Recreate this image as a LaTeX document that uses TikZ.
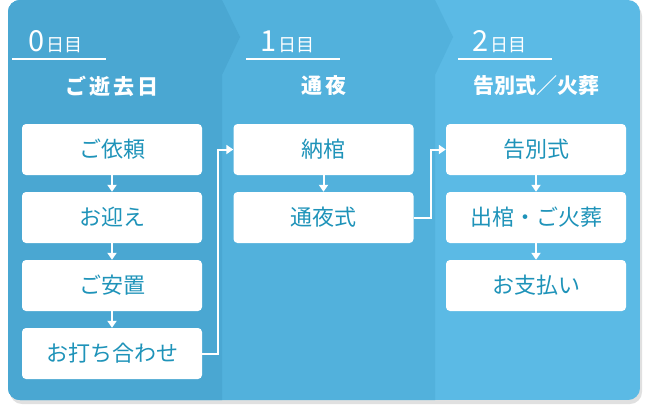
\documentclass[tikz,border=0pt]{standalone}
\usepackage{fontspec}
\setmainfont{Noto Sans CJK JP}
\usetikzlibrary{arrows.meta}
\definecolor{cA}{HTML}{4AA7D2}
\definecolor{cB}{HTML}{52B1DC}
\definecolor{cC}{HTML}{5BBAE5}
\definecolor{tx}{HTML}{1E93B9}
\tikzset{
  box/.style={fill=white,rounded corners=4pt,minimum width=180pt,minimum height=51pt,text=tx,font=\fontsize{22}{22}\selectfont,inner sep=0pt},
  flow/.style={draw=white,line width=2pt,-{Triangle[length=7pt,width=9pt]}},
  hd/.style={text=white,font=\fontsize{21}{21}\selectfont\bfseries},
  day/.style={text=white,inner sep=0pt,anchor=base west}
}
\begin{document}
\begin{tikzpicture}[x=1pt,y=-1pt]
\useasboundingbox (0,0) rectangle (648,416);
\fill[black!12,rounded corners=12pt] (10,4) rectangle (642,404);
\begin{scope}
\clip[rounded corners=12pt] (8,0) rectangle (640,400);
\fill[cC] (8,0) rectangle (640,400);
\fill[cB] (8,0) -- (435,0) -- (453,37) -- (435,75) -- (435,400) -- (8,400) -- cycle;
\fill[cA] (8,0) -- (222,0) -- (240,37) -- (222,75) -- (222,400) -- (8,400) -- cycle;
\end{scope}
% headers
\foreach \x/\n in {28/0,260/1,472/2}{
  \node[day] at (\x,51) {\fontsize{29}{29}\selectfont\n\hspace{2pt}\fontsize{18}{18}\selectfont 日目};
}
\draw[white,line width=1.5pt] (12,59) -- (106,59);
\draw[white,line width=1.5pt] (246,59) -- (340,59);
\draw[white,line width=1.5pt] (458,59) -- (552,59);
\node[hd] (h0) at (112,86) {ご\hspace{3pt}逝\hspace{3pt}去\hspace{3pt}日};
\node[hd] (h1) at (324,86) {通\hspace{3pt}夜};
\node[hd] (h2) at (536,86) {告別式／火葬};
% boxes
\node[box] (a1) at (112,149.5) {ご依頼};
\node[box] (a2) at (112,217.5) {お迎え};
\node[box] (a3) at (112,285.5) {ご安置};
\node[box] (a4) at (112,353.5) {お打ち合わせ};
\node[box] (b1) at (323.5,149.5) {納棺};
\node[box] (b2) at (323.5,217.5) {通夜式};
\node[box] (c1) at (536,149.5) {告別式};
\node[box] (c2) at (536,217.5) {出棺・ご火葬};
\node[box] (c3) at (536,285.5) {お支払い};
\foreach \a/\b in {a1/a2,a2/a3,a3/a4,b1/b2,c1/c2,c2/c3}{
  \draw[flow] (\a.south) -- (\b.north);
}
\draw[flow] (a4.east) -- ++(16,0) |- (b1.west);
\draw[flow] (b2.east) -- ++(17,0) |- (c1.west);
\end{tikzpicture}
\end{document}
